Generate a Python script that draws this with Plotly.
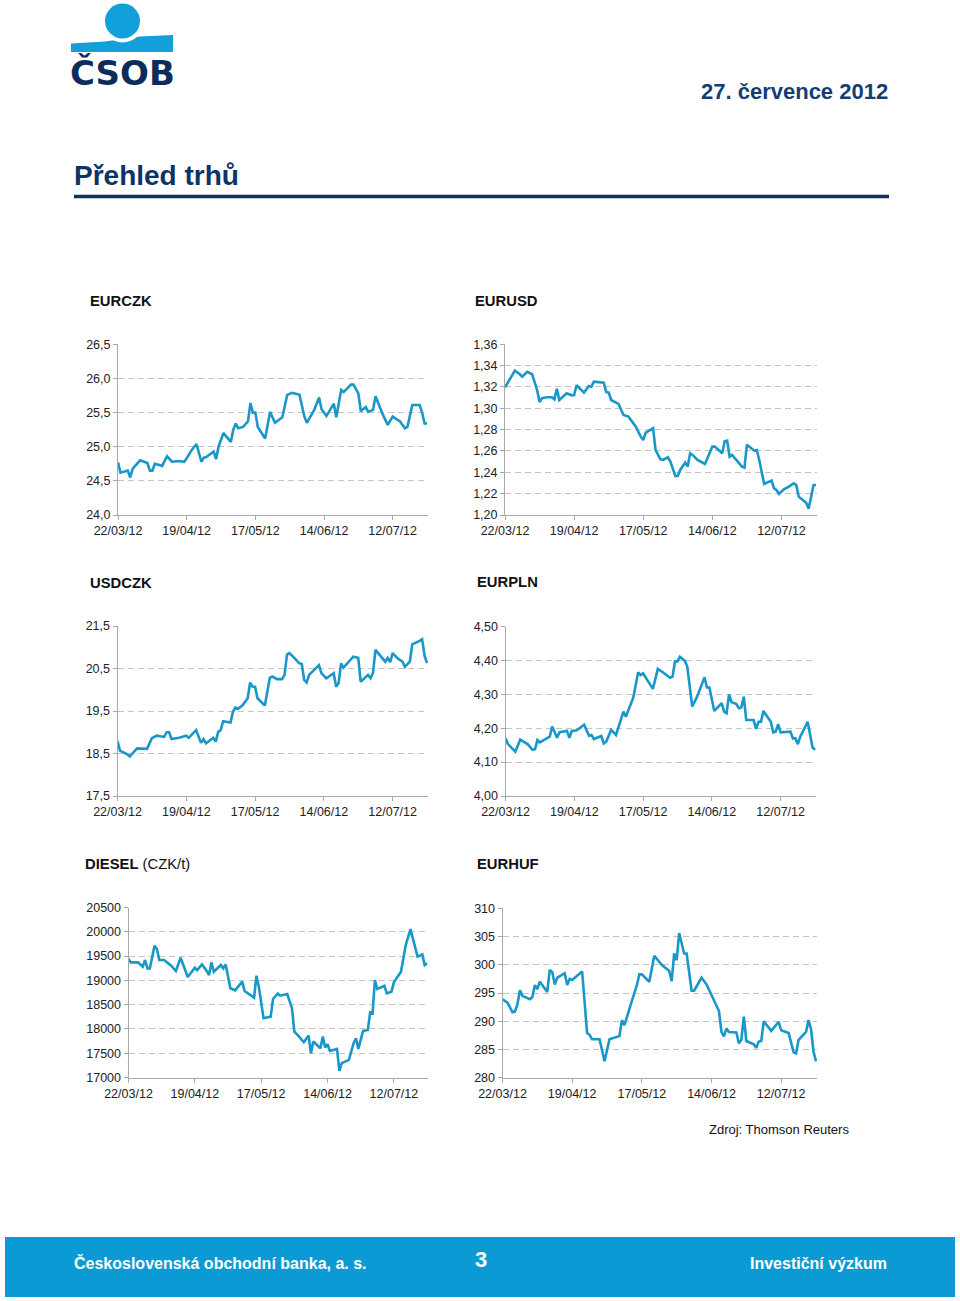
import pandas as pd
import plotly.graph_objects as go

# ---------------- data (days after 22/03/12, values) ----------------
BASE_DATE = "2012-03-22"
tick_dates = ["2012-03-22", "2012-04-19", "2012-05-17", "2012-06-14", "2012-07-12"]

eurczk_days = [0, 1, 4, 5, 6, 9, 12, 13, 14, 15, 18, 20, 22, 25, 27, 28, 30, 32, 34, 35, 36, 39, 40, 41,
               43, 46, 47, 48, 49, 51, 53, 54, 55, 56, 57, 60, 62, 64, 67, 69, 71, 74, 76, 77, 80, 82, 83,
               85, 88, 89, 91, 92, 95, 96, 98, 99, 101, 102, 104, 105, 108, 110, 112, 115, 117, 118, 119,
               120, 123, 124, 125, 126]
eurczk_vals = [24.77, 24.62, 24.65, 24.55, 24.68, 24.80, 24.76, 24.65, 24.65, 24.75, 24.72, 24.86, 24.78,
               24.79, 24.78, 24.83, 24.95, 25.04, 24.78, 24.84, 24.85, 24.93, 24.82, 25.00, 25.20, 25.07,
               25.25, 25.34, 25.27, 25.29, 25.37, 25.64, 25.50, 25.50, 25.29, 25.12, 25.51, 25.35, 25.43,
               25.76, 25.79, 25.76, 25.44, 25.35, 25.54, 25.72, 25.55, 25.45, 25.63, 25.43, 25.83, 25.80,
               25.91, 25.91, 25.78, 25.52, 25.58, 25.51, 25.54, 25.74, 25.47, 25.32, 25.44, 25.37, 25.27,
               25.29, 25.45, 25.61, 25.61, 25.50, 25.34, 25.34]

eurusd_days = [0, 2, 4, 6, 7, 9, 11, 13, 14, 15, 17, 19, 20, 21, 22, 25, 27, 28, 29, 32, 34, 35, 36, 40,
               41, 42, 43, 46, 48, 50, 53, 55, 56, 57, 60, 61, 63, 64, 66, 67, 69, 70, 71, 73, 74, 75, 76,
               78, 81, 82, 84, 85, 88, 89, 90, 91, 92, 96, 97, 98, 101, 102, 103, 105, 106, 108, 109, 110,
               111, 113, 115, 117, 118, 119, 121, 122, 123, 125, 126]
eurusd_vals = [1.3197, 1.3272, 1.3353, 1.3319, 1.3297, 1.3341, 1.3319, 1.3172, 1.3059, 1.3094, 1.3103,
               1.3103, 1.3084, 1.3184, 1.3078, 1.3141, 1.3122, 1.3125, 1.3216, 1.3147, 1.3209, 1.3203,
               1.3250, 1.3241, 1.3153, 1.3147, 1.3078, 1.3041, 1.2938, 1.2922, 1.2828, 1.2734, 1.2703,
               1.2772, 1.2813, 1.2609, 1.2522, 1.2516, 1.2541, 1.2500, 1.2366, 1.2366, 1.2422, 1.2491,
               1.2453, 1.2578, 1.2563, 1.2516, 1.2478, 1.2531, 1.2641, 1.2641, 1.2578, 1.2691, 1.2697,
               1.2547, 1.2563, 1.2453, 1.2444, 1.2659, 1.2603, 1.2609, 1.2516, 1.2291, 1.2303, 1.2322,
               1.2250, 1.2234, 1.2197, 1.2241, 1.2266, 1.2297, 1.2281, 1.2172, 1.2134, 1.2116, 1.2059,
               1.2281, 1.2281]

usdczk_days = [0, 1, 4, 5, 8, 10, 12, 14, 16, 19, 20, 21, 22, 25, 28, 29, 32, 34, 35, 36, 39, 40, 41, 42,
               43, 46, 47, 48, 49, 51, 53, 54, 55, 56, 57, 60, 62, 63, 65, 67, 68, 69, 70, 72, 74, 75, 76,
               77, 78, 82, 83, 85, 88, 89, 90, 91, 92, 96, 98, 99, 102, 103, 104, 105, 108, 109, 110, 111,
               112, 114, 116, 117, 119, 120, 123, 124, 125, 126]
usdczk_vals = [18.79, 18.57, 18.48, 18.43, 18.62, 18.62, 18.61, 18.86, 18.92, 18.89, 19.00, 19.00, 18.84,
               18.87, 18.92, 18.87, 19.05, 18.75, 18.84, 18.74, 18.87, 18.78, 19.01, 19.05, 19.26, 19.23,
               19.48, 19.58, 19.55, 19.64, 19.80, 20.17, 20.07, 20.07, 19.80, 19.63, 20.28, 20.31, 20.25,
               20.25, 20.35, 20.83, 20.86, 20.75, 20.62, 20.61, 20.23, 20.17, 20.35, 20.58, 20.39, 20.27,
               20.39, 20.07, 20.15, 20.62, 20.52, 20.78, 20.75, 20.19, 20.35, 20.27, 20.39, 20.94, 20.74,
               20.66, 20.75, 20.65, 20.86, 20.74, 20.66, 20.54, 20.66, 21.07, 21.15, 21.19, 20.80, 20.63]

eurpln_days = [0, 1, 4, 6, 9, 11, 12, 13, 14, 18, 19, 21, 22, 25, 26, 27, 29, 32, 34, 35, 36, 39, 40, 41,
               43, 45, 48, 49, 52, 53, 54, 55, 56, 60, 62, 64, 67, 68, 69, 70, 71, 73, 74, 76, 78, 81, 82,
               83, 85, 88, 89, 90, 91, 92, 94, 95, 96, 97, 98, 101, 102, 103, 104, 105, 107, 108, 109, 110,
               111, 112, 116, 117, 118, 119, 120, 123, 125, 126]
eurpln_vals = [4.170, 4.153, 4.131, 4.166, 4.153, 4.136, 4.138, 4.165, 4.158, 4.175, 4.205, 4.172, 4.188,
               4.192, 4.172, 4.192, 4.194, 4.210, 4.178, 4.180, 4.168, 4.177, 4.155, 4.160, 4.195, 4.180,
               4.249, 4.234, 4.290, 4.333, 4.365, 4.357, 4.362, 4.316, 4.375, 4.365, 4.349, 4.352, 4.397,
               4.397, 4.411, 4.399, 4.382, 4.264, 4.293, 4.350, 4.320, 4.320, 4.251, 4.274, 4.249, 4.244,
               4.300, 4.277, 4.271, 4.259, 4.261, 4.293, 4.224, 4.224, 4.198, 4.219, 4.219, 4.251, 4.227,
               4.219, 4.188, 4.190, 4.212, 4.188, 4.190, 4.170, 4.170, 4.153, 4.175, 4.219, 4.143, 4.136]

diesel_days = [0, 1, 4, 6, 7, 8, 9, 11, 12, 13, 15, 18, 20, 22, 25, 27, 28, 29, 31, 33, 34, 35, 36, 39, 40,
               41, 43, 45, 48, 49, 52, 53, 54, 55, 57, 60, 61, 63, 64, 67, 69, 70, 72, 74, 76, 77, 78, 81,
               82, 83, 84, 85, 88, 89, 90, 93, 95, 96, 97, 99, 101, 102, 103, 104, 105, 108, 109, 111, 112,
               115, 117, 119, 122, 124, 125, 126]
diesel_vals = [19438, 19370, 19370, 19281, 19418, 19247, 19247, 19712, 19644, 19418, 19418, 19301, 19192,
               19466, 19069, 19192, 19260, 19212, 19329, 19192, 19110, 19370, 19178, 19315, 19247, 19329,
               18836, 18795, 18973, 18781, 18685, 18644, 19096, 18870, 18219, 18253, 18616, 18726, 18685,
               18719, 18425, 17945, 17843, 17726, 17863, 17500, 17740, 17603, 17843, 17617, 17685, 17548,
               17589, 17137, 17295, 17363, 17706, 17808, 17589, 17959, 17979, 18342, 18322, 19007, 18822,
               18890, 18733, 18767, 18959, 19178, 19726, 20055, 19486, 19534, 19315, 19349]

eurhuf_days = [0, 2, 4, 5, 6, 7, 8, 11, 12, 13, 14, 15, 18, 19, 20, 21, 22, 25, 26, 27, 28, 32, 34, 35, 36,
               39, 41, 43, 45, 47, 48, 49, 52, 54, 55, 56, 59, 61, 64, 67, 68, 69, 70, 71, 72, 73, 74, 76,
               77, 80, 82, 87, 88, 89, 90, 91, 94, 95, 96, 97, 98, 101, 102, 103, 104, 105, 108, 111, 112,
               115, 117, 118, 119, 122, 123, 124, 125, 126]
eurhuf_vals = [293.9, 293.3, 291.6, 291.7, 293.0, 295.5, 294.5, 293.9, 294.3, 296.4, 295.7, 297.0, 295.2,
               299.1, 298.7, 296.5, 297.7, 298.5, 296.4, 297.5, 297.3, 298.8, 287.9, 287.6, 286.8, 286.8,
               282.9, 286.8, 287.1, 287.4, 290.2, 289.3, 293.6, 296.4, 298.3, 298.3, 297.0, 301.6, 300.0,
               298.9, 297.1, 302.0, 300.8, 305.6, 303.8, 302.0, 302.0, 295.4, 295.4, 297.7, 296.5, 291.8,
               288.1, 287.3, 288.7, 288.1, 288.0, 286.1, 286.7, 290.8, 286.5, 285.9, 285.3, 286.4, 286.5,
               290.0, 288.3, 289.9, 288.4, 287.9, 284.5, 284.3, 286.7, 288.1, 290.2, 288.6, 284.6, 282.9]

# ---------------- styling ----------------
W, H = 960, 1301
LINE = "#1a97c9"
GRID = "#c4c4c4"
AXIS = "#a8a8a8"
NAVY = "#0d3466"
FONT = "Liberation Sans, Arial, Helvetica, sans-serif"
TICKFONT = dict(family=FONT, size=12.5, color="#222222")

charts = [
    dict(title="<b>EURCZK</b>", days=eurczk_days, vals=eurczk_vals, yr=[24.0, 26.5], dt=0.5, fmt=".1f",
         box=(118, 428, 344.3, 515), tpos=(88, 301)),
    dict(title="<b>EURUSD</b>", days=eurusd_days, vals=eurusd_vals, yr=[1.20, 1.36], dt=0.02, fmt=".2f",
         box=(505, 817, 344.3, 515), tpos=(473, 301)),
    dict(title="<b>USDCZK</b>", days=usdczk_days, vals=usdczk_vals, yr=[17.5, 21.5], dt=1.0, fmt=".1f",
         box=(117.5, 428, 626, 796), tpos=(88, 583)),
    dict(title="<b>EURPLN</b>", days=eurpln_days, vals=eurpln_vals, yr=[4.00, 4.50], dt=0.1, fmt=".2f",
         box=(505.5, 816, 626.5, 796), tpos=(475, 582)),
    dict(title="<b>DIESEL</b> (CZK/t)", days=diesel_days, vals=diesel_vals, yr=[17000, 20500], dt=500,
         fmt="d", box=(128.5, 428, 907.5, 1077.5), tpos=(83, 864)),
    dict(title="<b>EURHUF</b>", days=eurhuf_days, vals=eurhuf_vals, yr=[280, 310], dt=5, fmt="d",
         box=(502.5, 817, 908.3, 1077.7), tpos=(475, 864)),
]

base = pd.Timestamp(BASE_DATE)
x_end = base + pd.Timedelta(days=126.4)

fig = go.Figure()
annotations = []
for i, c in enumerate(charts, start=1):
    xs = base + pd.to_timedelta(c["days"], unit="D")
    fig.add_trace(go.Scatter(x=xs, y=c["vals"], mode="lines",
                             line=dict(color=LINE, width=2.6),
                             xaxis=f"x{i}", yaxis=f"y{i}", showlegend=False, hoverinfo="skip"))
    x0, x1, y0, y1 = c["box"]
    span = c["yr"][1] - c["yr"][0]
    xa = dict(domain=[x0 / W, x1 / W], anchor=f"y{i}", type="date",
              range=[base, x_end], tickmode="array", tickvals=tick_dates, tickformat="%d/%m/%y",
              showgrid=False, zeroline=False, showline=True, linecolor=AXIS, linewidth=1,
              ticks="outside", ticklen=4, tickcolor=AXIS, tickfont=TICKFONT, fixedrange=True,
              automargin=False)
    ya = dict(domain=[1 - y1 / H, 1 - y0 / H], anchor=f"x{i}",
              range=[c["yr"][0], c["yr"][1] + span * 1e-6], tickmode="linear", tick0=c["yr"][0],
              dtick=c["dt"], tickformat=c["fmt"], showgrid=True, gridcolor=GRID, gridwidth=1,
              griddash="6px,4px", zeroline=False, showline=True, linecolor=AXIS, linewidth=1,
              ticks="outside", ticklen=4, tickcolor=AXIS, tickfont=TICKFONT, fixedrange=True,
              automargin=False)
    key = "" if i == 1 else str(i)
    fig.layout["xaxis" + key] = xa
    fig.layout["yaxis" + key] = ya
    annotations.append(dict(text=c["title"], x=c["tpos"][0] / W, y=1 - c["tpos"][1] / H,
                            xref="paper", yref="paper", xanchor="left", yanchor="middle",
                            showarrow=False, font=dict(family=FONT, size=14.8, color="#111111")))


def px(x, y):
    return x / W, 1 - y / H


shapes = []
# logo band
band = [(71, 43.5), (105, 41.5), (140, 36.5), (173, 35), (173, 52), (71, 52)]
path = "M " + " L ".join(f"{px(a, b)[0]:.5f},{px(a, b)[1]:.5f}" for a, b in band) + " Z"
shapes.append(dict(type="path", path=path, xref="paper", yref="paper", fillcolor="#12a0da",
                   line=dict(width=0), layer="above"))
# white ring around the ball
for r, col in [(21.5, "white"), (17.5, "#12a0da")]:
    cx, cy = 122.5, 21
    ax0, ay1 = px(cx - r, cy - r)
    ax1, ay0 = px(cx + r, cy + r)
    shapes.append(dict(type="circle", xref="paper", yref="paper", x0=ax0, x1=ax1, y0=ay0, y1=ay1,
                       fillcolor=col, line=dict(width=0), layer="above"))
# title underline
lx0, ly = px(74, 196.5)
lx1, _ = px(889, 196.5)
shapes.append(dict(type="line", xref="paper", yref="paper", x0=lx0, x1=lx1, y0=ly, y1=ly,
                   line=dict(color=NAVY, width=3.5)))
# footer bar
fx0, fy1 = px(5, 1237)
fx1, fy0 = px(955, 1297)
shapes.append(dict(type="rect", xref="paper", yref="paper", x0=fx0, x1=fx1, y0=fy0, y1=fy1,
                   fillcolor="#0b9ad3", line=dict(width=0), layer="below"))


def txt(text, x, y, size, color, xanchor="left", bold=False, family=FONT):
    return dict(text=f"<b>{text}</b>" if bold else text, x=x / W, y=1 - y / H, xref="paper", yref="paper",
                xanchor=xanchor, yanchor="middle", showarrow=False,
                font=dict(family=family, size=size, color=color))


annotations += [
    txt("ČSOB", 68, 73, 34, "#0c2d5c", bold=True, family="DejaVu Sans, Arial"),
    txt("27. července 2012", 890, 92, 22, "#143d73", xanchor="right", bold=True),
    txt("Přehled trhů", 72, 176, 28, NAVY, bold=True),
    txt("Zdroj: Thomson Reuters", 707, 1129, 13, "#111111"),
    txt("Československá obchodní banka, a. s.", 72, 1263, 16, "white", bold=True),
    txt("3", 481, 1259, 22, "white", xanchor="center", bold=True),
    txt("Investiční výzkum", 889, 1263, 16, "white", xanchor="right", bold=True),
]

fig.update_layout(width=W, height=H, margin=dict(l=0, r=0, t=0, b=0, autoexpand=False),
                  paper_bgcolor="white", plot_bgcolor="white", separators=", ", shapes=shapes,
                  annotations=annotations, showlegend=False, font=dict(family=FONT))

fig.write_html("out.html", config={"displayModeBar": False},
               post_script="document.body.style.margin='0';")
